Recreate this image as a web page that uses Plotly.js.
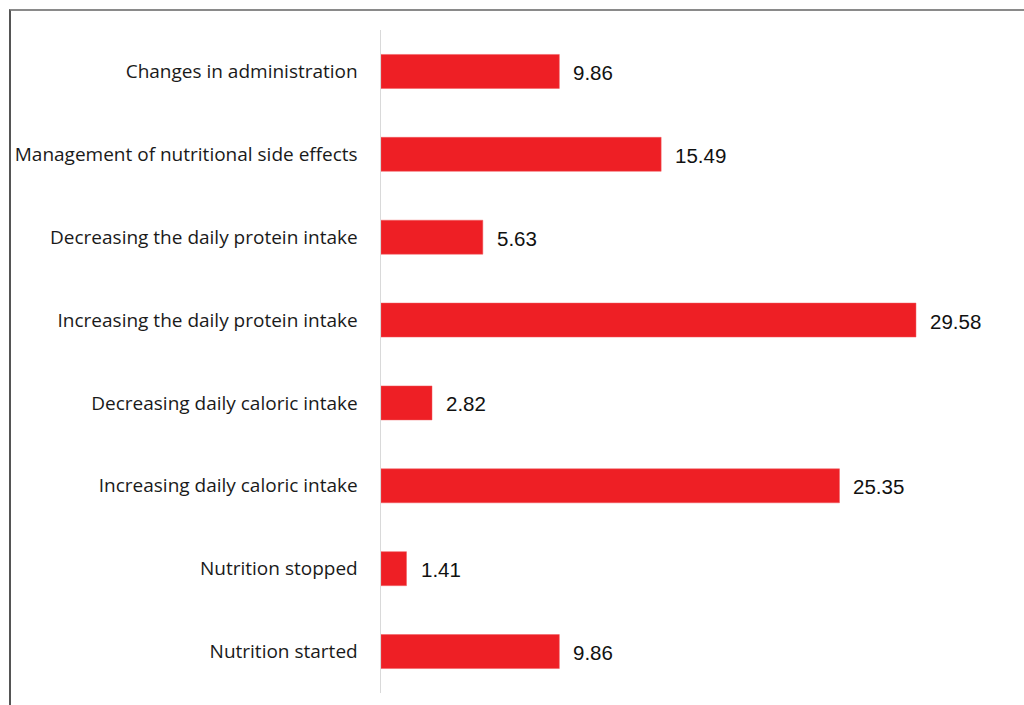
<!DOCTYPE html>
<html>
<head>
<meta charset="utf-8">
<script src="https://cdn.plot.ly/plotly-3.0.1.min.js"></script>
<style>
html,body{margin:0;padding:0;background:#fff;overflow:hidden;}
#wrap{position:relative;width:1024px;height:705px;}
#chart{position:absolute;left:0;top:0;width:1024px;height:705px;}
#frame{position:absolute;left:9px;top:9px;width:1100px;height:800px;border-top:2px solid #8a8a8a;border-left:2px solid #555;pointer-events:none;box-sizing:border-box;}
</style>
</head>
<body>
<div id="wrap"><div id="chart"></div><div id="frame"></div></div>
<script>
const categories = [
  "Changes in administration",
  "Management of nutritional side effects",
  "Decreasing the daily protein intake",
  "Increasing the daily protein intake",
  "Decreasing daily caloric intake",
  "Increasing daily caloric intake",
  "Nutrition stopped",
  "Nutrition started"
];
const values = [9.86, 15.49, 5.63, 29.58, 2.82, 25.35, 1.41, 9.86];

const annotations = values.map((v, i) => ({
  x: v, y: categories[i], xref: 'x', yref: 'y',
  text: v.toFixed(2), showarrow: false,
  xanchor: 'left', yanchor: 'middle', xshift: 12, yshift: -1,
  font: {family: 'Liberation Sans, Arial, sans-serif', size: 20.5, color: '#111'}
}));

const trace = {
  type: 'bar', orientation: 'h',
  x: values, y: categories,
  marker: {color: '#EE1F25', line: {color: '#f05a5e', width: 0.5}},
  hoverinfo: 'skip'
};

const layout = {
  width: 1024, height: 705,
  margin: {l: 381, r: 10, t: 29.5, b: 11.5, pad: 0},
  paper_bgcolor: '#fff', plot_bgcolor: '#fff',
  bargap: 0.59,
  showlegend: false,
  xaxis: {range: [0, 35], visible: false, fixedrange: true},
  yaxis: {
    type: 'category', autorange: 'reversed',
    showline: true, linecolor: '#d9d9d9', linewidth: 1.5,
    showgrid: false, zeroline: false, ticks: '', ticklabelstandoff: 18,
    tickfont: {family: 'Open Sans, sans-serif', size: 19, color: '#1a1a1a'},
    fixedrange: true
  },
  annotations: annotations
};

Plotly.newPlot('chart', [trace], layout, {displayModeBar: false, staticPlot: true});
</script>
</body>
</html>
